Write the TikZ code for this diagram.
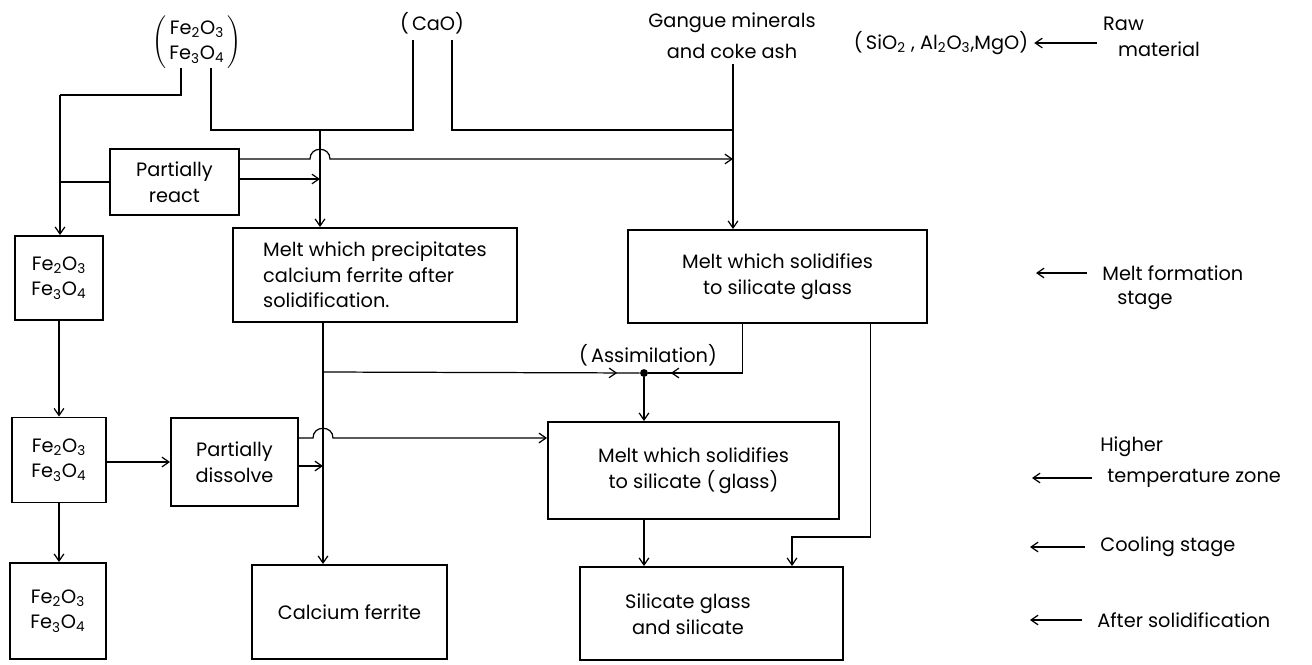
\documentclass[tikz,border=0pt]{standalone}
\usepackage{fontspec}
\setmainfont{Poppins}
\usetikzlibrary{arrows.meta,calc,decorations.markings}
\newcommand{\feox}[2]{Fe\textsubscript{#1}O\textsubscript{#2}}
\begin{document}
\begin{tikzpicture}[x=0.02cm,y=-0.02cm,
  font=\fontsize{11}{14.5}\selectfont,
  box/.style={draw,line width=1.1pt,inner sep=0pt,align=center},
  wire/.style={line width=0.7pt},
  arr/.style={wire,-{Straight Barb[length=4pt,width=5.5pt]}},
  pointer/.style={arr,shorten <=0.3cm},
  tipat/.style={postaction={decorate,decoration={markings,
    mark=at position #1 with {\arrow{Straight Barb[length=4pt,width=5.5pt]}}}}},
  joint/.style={circle,fill,inner sep=0pt,minimum size=4.5pt},
  stage/.style={anchor=west,inner sep=0pt}]
\useasboundingbox (0,0) rectangle (1312,664);
% raw materials
\node (fetop) at (197,42) {$\left(\,\begin{tabular}{@{}c@{}}\feox23\\\feox34\end{tabular}\,\right)$};
\node (cao) at (432,23) {(\,CaO)};
\node[align=center] (gangue) at (732,36) {Gangue minerals\\[3pt]and coke ash};
\node (sio2) at (941,43) {(\,SiO\textsubscript{2} , Al\textsubscript{2}O\textsubscript{3},MgO)};
\node[align=left,anchor=west] (raw) at (1097,37) {Raw\\\hspace*{0.3cm}material};
\draw[arr] (raw.west |- sio2) -- (sio2.east);
% boxes
\node[box,minimum width=1.76cm,minimum height=1.68cm] (fe1) at (59,278) {\feox23\\\feox34};
\node[box,minimum width=1.88cm,minimum height=1.70cm] (fe2) at (59,460) {\feox23\\\feox34};
\node[box,minimum width=1.92cm,minimum height=1.92cm] (fe3) at (58,611) {\feox23\\\feox34};
\node[box,minimum width=2.58cm,minimum height=1.32cm] (react) at (174.5,182) {Partially\\react};
\node[box,minimum width=2.54cm,minimum height=1.76cm] (dissolve) at (234.5,462) {Partially\\dissolve};
\node[box,align=left,minimum width=5.68cm,minimum height=1.88cm] (meltcf) at (375,275)
  {Melt which precipitates\\calcium ferrite after\\solidification.};
\node[box,minimum width=5.98cm,minimum height=1.86cm] (meltsg) at (777.5,276.5)
  {Melt which solidifies\\to silicate glass};
\node[box,minimum width=5.82cm,minimum height=1.94cm] (melts) at (693.5,470.5)
  {Melt which solidifies\\to silicate (\,glass)};
\node[box,minimum width=3.90cm,minimum height=1.88cm] (cf) at (349.5,612) {Calcium ferrite};
\node[box,minimum width=5.26cm,minimum height=1.86cm] (sg) at (711.5,613.5) {};
\node[align=center] (sgt) at (688,614) {Silicate glass\\and silicate};
% junctions
\coordinate (fel) at (181,68);
\coordinate (fer) at (211,68);
\coordinate (caol) at (413,40);
\coordinate (caor) at (452,40);
\coordinate (gang) at (733,64);
\coordinate (jfe) at (60,95);
\coordinate (jca) at (320,130);
\coordinate (jga) at (733,130);
\coordinate (jcf) at (323,372);
\coordinate (jsg) at (792,537);
\node[joint] (asm) at (644,373) {};
\node (asml) at (648,355) {(\,Assimilation)};
% connectors
\draw[wire] (fel) |- (jfe);
\draw[arr] (jfe) -- (jfe |- fe1.north);
\draw[wire] (fer) |- (jca) -| (caol);
\draw[arr] (jca) -- (jca |- meltcf.north);
\draw[wire] (caor) |- (jga);
\draw[arr] (gang) -- (gang |- meltsg.north);
\draw[wire] (jfe |- react.west) -- (react.west);
\draw[arr] ($(react.east)+(0,-23)$) coordinate (ra) -- ($(jca |- ra)+(-10,0)$)
  .. controls +(0,-13) and +(0,-13) .. ($(jca |- ra)+(10,0)$) -- (gang |- ra);
\draw[arr] ($(react.east)+(0,-3)$) coordinate (rb) -- (jca |- rb);
\draw[arr] (fe1.south) -- (fe1.south |- fe2.north);
\draw[arr] (fe2.south) -- (fe2.south |- fe3.north);
\draw[arr] (fe2.east |- dissolve) -- (dissolve.west);
\draw[arr] (jcf |- meltcf.south) -- (jcf |- cf.north);
\draw[arr] ($(dissolve.east)+(0,-24)$) coordinate (da) -- ($(jcf |- da)+(-10,0)$)
  .. controls +(0,-13) and +(0,-13) .. ($(jcf |- da)+(10,0)$) -- (melts.west |- da);
\draw[arr] ($(dissolve.east)+(0,4)$) coordinate (db) -- (jcf |- db);
\draw[wire,tipat=-0.45cm] (jcf) -- (asm);
\draw[wire,tipat=-0.45cm] ($(meltsg.south)+(-35,0)$) |- (asm);
\draw[arr] (asm) -- (asm |- melts.north);
\draw[arr] (melts.south -| asm) -- (asm |- sg.north);
\draw[arr] ($(meltsg.south)+(93,0)$) |- (jsg) -- (jsg |- sg.north);
% stages
\node[stage] (lmelt) at (1102,273) {Melt formation};
\node[stage] (lmelt2) at (1117,300) {stage};
\node[stage] (lhigh) at (1100,447) {Higher};
\node[stage] (lhot) at (1107,478) {temperature zone};
\node[stage] (lcool) at (1100,547) {Cooling stage};
\node[stage] (lafter) at (1097,620) {After solidification};
\draw[pointer] (lmelt.west) -- ++(-66,0);
\draw[pointer] (lhot.west) -- ++(-75,0);
\draw[pointer] (lcool.west) -- ++(-70,0);
\draw[pointer] (lafter.west) -- ++(-67,0);
\end{tikzpicture}
\end{document}
